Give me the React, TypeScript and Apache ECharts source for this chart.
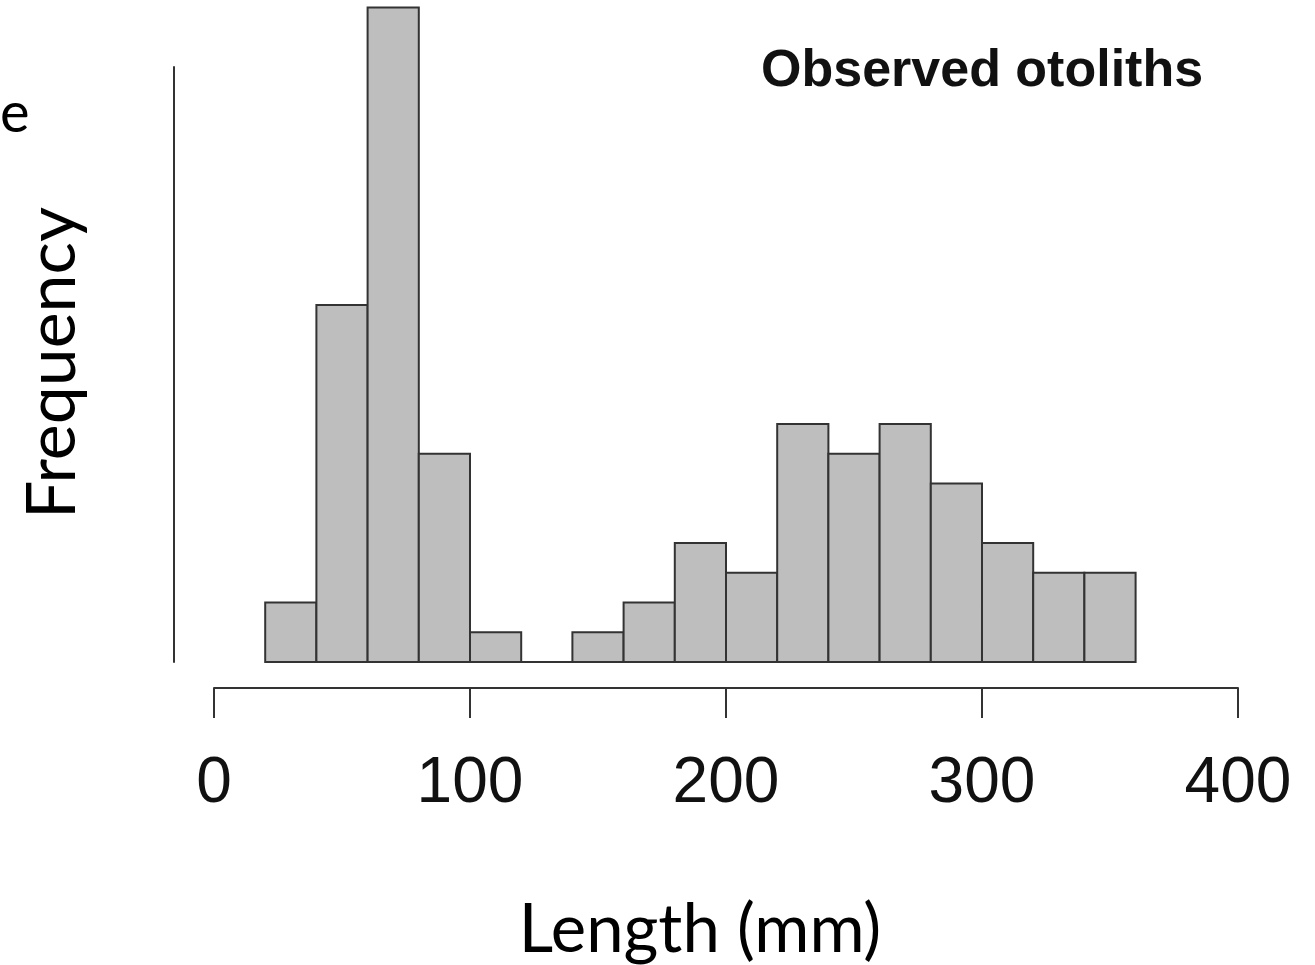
import React, { useEffect, useRef } from "react";
import * as echarts from "echarts";

const binStarts = [20, 40, 60, 80, 100, 120, 140, 160, 180, 200, 220, 240, 260, 280, 300, 320, 340];
const binWidth = 20;
const counts = [2, 12, 22, 7, 1, 0, 1, 2, 4, 3, 8, 7, 8, 6, 4, 3, 3];
const xTicks = [0, 100, 200, 300, 400];
const titleText = "Observed otoliths";
const xLabel = "Length (mm)";
const yLabel = "Frequency";

export default function App() {
  const ref = useRef<HTMLDivElement>(null);
  useEffect(() => {
    if (!ref.current) return;
    const chart = echarts.init(ref.current, undefined, { renderer: "svg" });
    const data = binStarts.map((s, i) => [s, s + binWidth, counts[i]]);
    chart.setOption({
      animation: false,
      backgroundColor: "#ffffff",
      grid: { left: 214, right: 77, top: 67, bottom: 303, containLabel: false },
      title: {
        text: titleText,
        left: 756,
        top: 37,
        textStyle: { fontFamily: "Liberation Sans", fontWeight: "bold", fontSize: 52, color: "#111" },
      },
      xAxis: {
        type: "value",
        min: xTicks[0],
        max: xTicks[xTicks.length - 1],
        interval: 100,
        offset: 26,
        axisLine: { show: true, onZero: false, lineStyle: { color: "#333", width: 2 } },
        axisTick: { show: true, length: 30, inside: false, lineStyle: { color: "#333", width: 2 } },
        axisLabel: { show: true, margin: 60, fontFamily: "Liberation Sans", fontSize: 64, color: "#111" },
        splitLine: { show: false },
      },
      yAxis: {
        type: "value",
        min: 0,
        max: 20,
        offset: 40,
        axisLine: { show: true, onZero: false, lineStyle: { color: "#333", width: 2 } },
        axisTick: { show: false },
        axisLabel: { show: false },
        splitLine: { show: false },
      },
      graphic: [
        {
          type: "text",
          x: 700,
          y: 926,
          style: { text: xLabel, fontFamily: "Lato", fontSize: 67, fill: "#000", align: "center", verticalAlign: "middle" },
        },
        {
          type: "text",
          x: 48,
          y: 363,
          rotation: Math.PI / 2,
          style: { text: yLabel, fontFamily: "Lato", fontSize: 68, fill: "#000", align: "center", verticalAlign: "middle" },
        },
        {
          type: "text",
          x: 0,
          y: 110,
          rotation: 0,
          style: { text: "e", fontFamily: "Lato", fontSize: 56, fill: "#000", align: "left", verticalAlign: "middle" },
        },
      ],
      series: [
        {
          type: "custom",
          data,
          encode: { x: [0, 1], y: 2 },
          clip: false,
          renderItem: (params: any, api: any) => {
            const x0 = api.value(0);
            const x1 = api.value(1);
            const c = api.value(2);
            const p0 = api.coord([x0, c]);
            const p1 = api.coord([x1, 0]);
            return {
              type: "rect",
              shape: { x: p0[0], y: p0[1], width: p1[0] - p0[0], height: p1[1] - p0[1] },
              style: { fill: "#bebebe", stroke: "#333", lineWidth: 2 },
            };
          },
        },
      ],
    });
    return () => chart.dispose();
  }, []);
  return <div ref={ref} style={{ position: "fixed", left: 0, top: 0, width: 1315, height: 965 }} />;
}
